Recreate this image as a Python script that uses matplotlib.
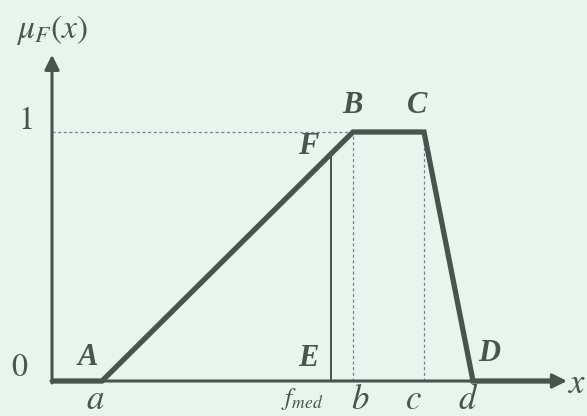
import numpy as np
import matplotlib.pyplot as plt

# --- membership function (trapezoid) ---
X_PTS = [0, 50, 301, 372, 421, 500]       # 0, a, b, c, d, end of axis segment
MU_PTS = [0, 0, 1, 1, 0, 0]
X_FMED = 279
MU_F = float(np.interp(X_FMED, X_PTS[1:3], MU_PTS[1:3]))

X_TICKS = [43, 250, 308, 361, 416]
X_TICK_LABELS = ["$a$", "$f_{med}$", "$b$", "$c$", "$d$"]
POINT_NAMES = ["A", "B", "C", "D", "E", "F"]
POINT_POS = [(36, 0.096), (300, 1.108), (365, 1.108), (437, 0.112), (256, 0.092), (256, 0.94)]

BG = "#e8f5ef"
INK = "#48544e"
GUIDE = "#7a8580"

plt.rcParams['mathtext.fontset'] = 'stix'

fig = plt.figure(figsize=(5.87, 4.16), dpi=100, facecolor=BG)
ax = fig.add_axes([0, 0, 1, 1])
ax.set_facecolor(BG)
ax.set_xlim(-52, 535)
ax.set_ylim(-35 / 249, 381 / 249)
ax.axis('off')

# axes arrows
ax.annotate("", xy=(515, 0), xytext=(-1, 0),
            arrowprops=dict(arrowstyle='-|>', color=INK, lw=2.2, mutation_scale=22,
                            shrinkA=0, shrinkB=0))
ax.annotate("", xy=(0, 1.31), xytext=(0, -0.008),
            arrowprops=dict(arrowstyle='-|>', color=INK, lw=2.2, mutation_scale=22,
                            shrinkA=0, shrinkB=0))

# guide lines
ax.plot([0, X_PTS[2]], [1, 1], color=GUIDE, lw=0.9, ls=(0, (2.5, 2)))
ax.plot([X_PTS[2], X_PTS[2]], [0, 1], color=GUIDE, lw=0.9, ls=(0, (2.5, 2)))
ax.plot([X_PTS[3], X_PTS[3]], [0, 1], color=GUIDE, lw=0.9, ls=(0, (2.5, 2)))
ax.plot([X_FMED, X_FMED], [0, MU_F], color=INK, lw=1.4)

# membership curve
ax.plot(X_PTS, MU_PTS, color=INK, lw=3.8, solid_joinstyle='miter', solid_capstyle='butt')

# labels
ax.text(0, 1.41, r"$\mu_F(x)$", fontsize=24, color=INK, ha='center', va='center')
ax.text(-27, 1.048, "$1$", fontsize=23, color=INK, ha='center', va='center')
ax.text(-32, 0.056, "$0$", fontsize=23, color=INK, ha='center', va='center')
ax.text(525, -0.008, "$x$", fontsize=25, color=INK, ha='center', va='center')
for lbl, xt in zip(X_TICK_LABELS, X_TICKS):
    size = 18 if 'med' in lbl else 25
    ax.text(xt, -0.074, lbl, fontsize=size, color=INK, ha='center', va='center')
for name, (px, py) in zip(POINT_NAMES, POINT_POS):
    ax.text(px, py, name, fontsize=22, color=INK, ha='center', va='center',
            fontweight='bold', fontstyle='italic', family='Liberation Serif')

fig.savefig("out.png", dpi=100, facecolor=BG)
